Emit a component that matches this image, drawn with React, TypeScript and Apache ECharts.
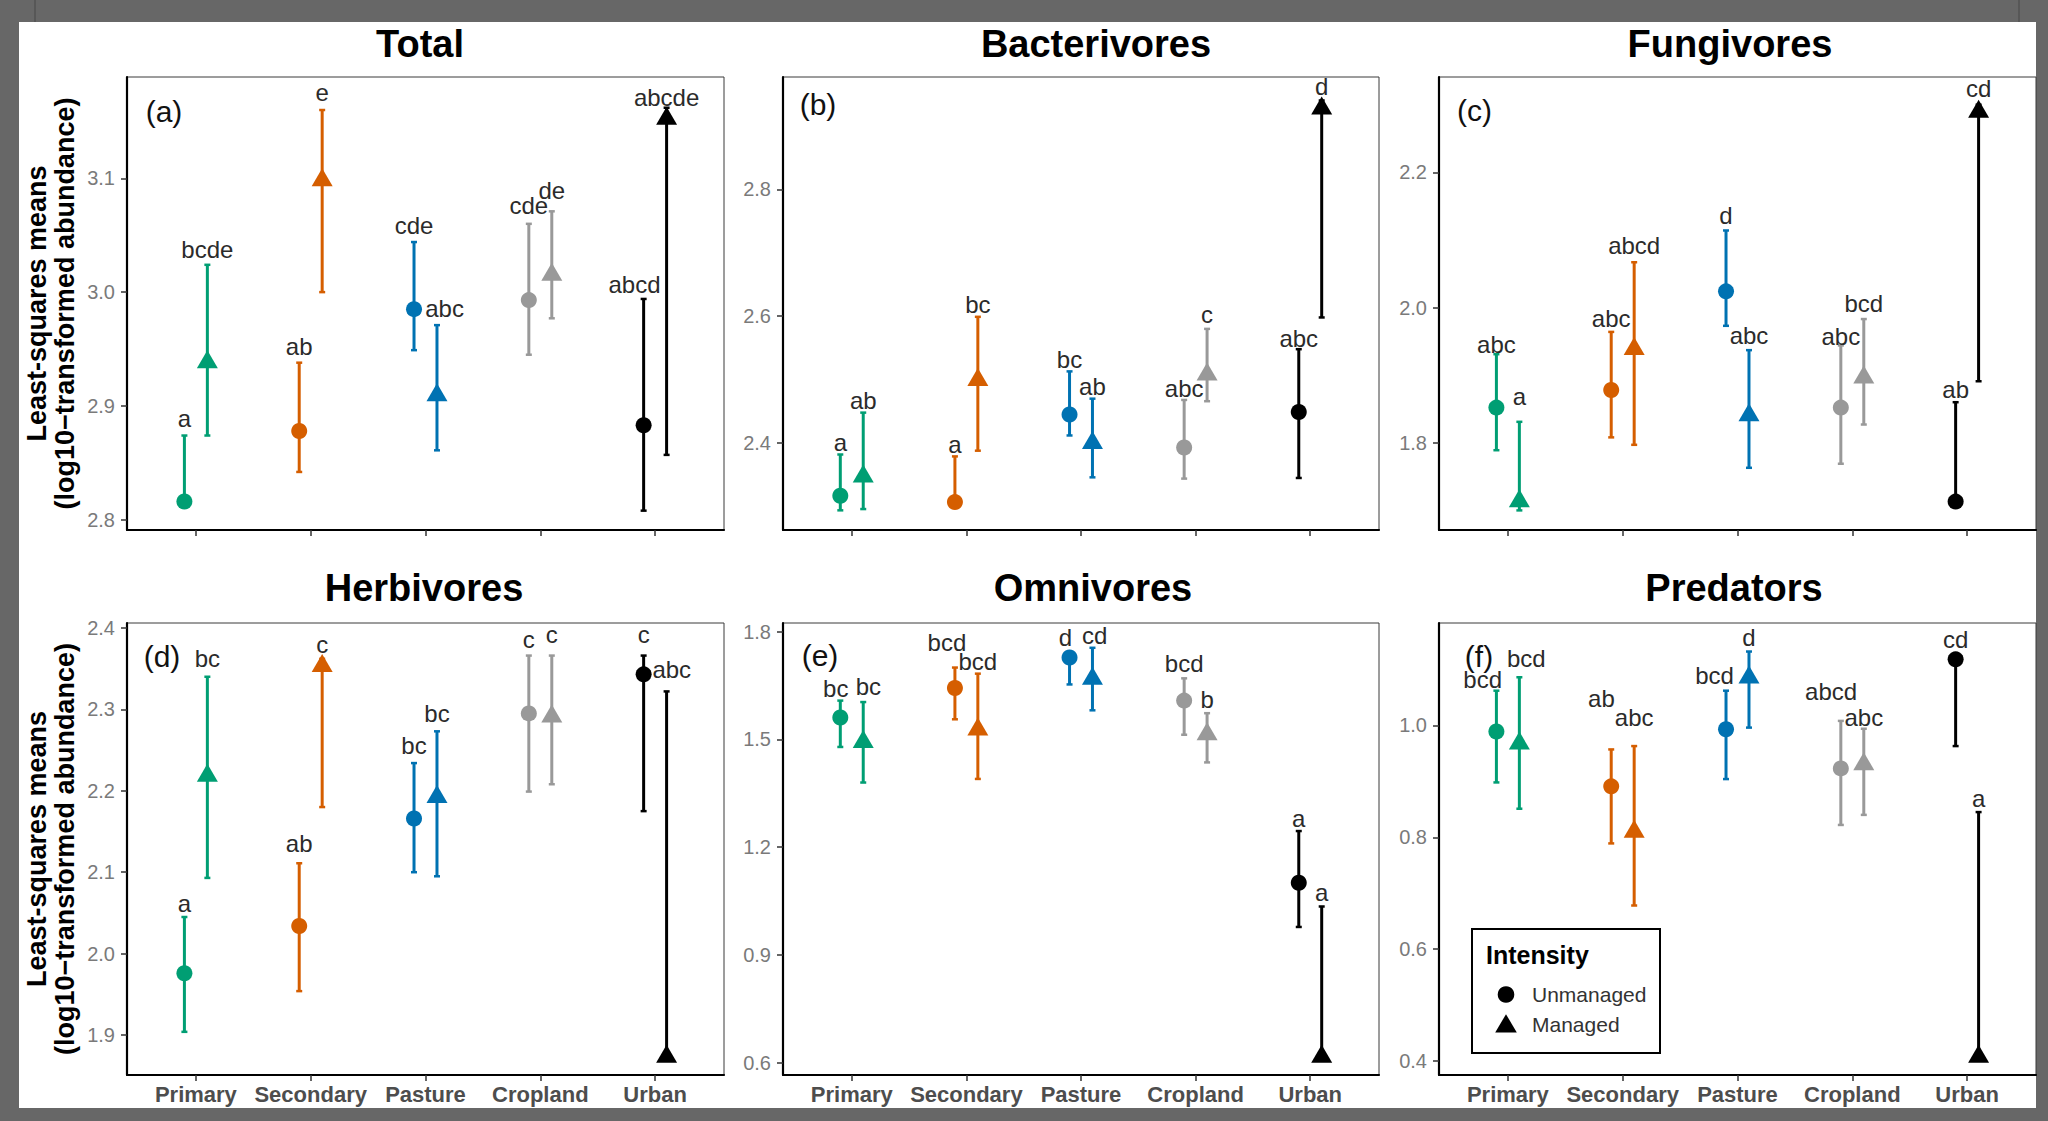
import React, { useEffect, useRef } from 'react';
import * as echarts from 'echarts';

// ---------- data ----------
const landUses = ['Primary', 'Secondary', 'Pasture', 'Cropland', 'Urban'];
const landUseColors = ['#009E73', '#D55E00', '#0072B2', '#999999', '#000000'];
const intensities = ['Unmanaged', 'Managed'];

// each row: [least-squares mean, lower CI, upper CI], one row per land use
const totalUnmanaged = [
  [2.816, 2.811, 2.874],
  [2.878, 2.842, 2.938],
  [2.985, 2.949, 3.044],
  [2.993, 2.945, 3.06],
  [2.883, 2.808, 2.994],
];
const totalManaged = [
  [2.941, 2.874, 3.024],
  [3.101, 3.0, 3.16],
  [2.912, 2.861, 2.971],
  [3.018, 2.977, 3.071],
  [3.155, 2.857, 3.162],
];
const totalLettersUnmanaged = ['a', 'ab', 'cde', 'cde', 'abcd'];
const totalLettersManaged = ['bcde', 'e', 'abc', 'de', 'abcde'];
const totalLetterYUnmanaged = [2.882, 2.945, 3.051, 3.069, 2.999];
const totalLetterYManaged = [3.03, 3.168, 2.978, 3.082, 3.164];
const totalTicks = [2.8, 2.9, 3.0, 3.1];

const bacterivoresUnmanaged = [
  [2.317, 2.294, 2.382],
  [2.307, 2.302, 2.379],
  [2.445, 2.412, 2.513],
  [2.393, 2.344, 2.468],
  [2.449, 2.345, 2.548],
];
const bacterivoresManaged = [
  [2.352, 2.296, 2.448],
  [2.504, 2.388, 2.599],
  [2.405, 2.346, 2.47],
  [2.513, 2.466, 2.58],
  [2.932, 2.598, 2.94],
];
const bacterivoresLettersUnmanaged = ['a', 'a', 'bc', 'abc', 'abc'];
const bacterivoresLettersManaged = ['ab', 'bc', 'ab', 'c', 'd'];
const bacterivoresLetterYUnmanaged = [2.388, 2.384, 2.518, 2.473, 2.552];
const bacterivoresLetterYManaged = [2.454, 2.605, 2.476, 2.589, 2.949];
const bacterivoresTicks = [2.4, 2.6, 2.8];

const fungivoresUnmanaged = [
  [1.852, 1.789, 1.931],
  [1.878, 1.808, 1.964],
  [2.024, 1.973, 2.114],
  [1.852, 1.769, 1.944],
  [1.713, 1.706, 1.86],
];
const fungivoresManaged = [
  [1.718, 1.7, 1.831],
  [1.943, 1.797, 2.067],
  [1.845, 1.763, 1.937],
  [1.901, 1.827, 1.983],
  [2.294, 1.891, 2.3],
];
const fungivoresLettersUnmanaged = ['abc', 'abc', 'd', 'abc', 'ab'];
const fungivoresLettersManaged = ['a', 'abcd', 'abc', 'bcd', 'cd'];
const fungivoresLetterYUnmanaged = [1.933, 1.972, 2.124, 1.945, 1.867];
const fungivoresLetterYManaged = [1.856, 2.079, 1.947, 1.993, 2.312];
const fungivoresTicks = [1.8, 2.0, 2.2];

const herbivoresUnmanaged = [
  [1.976, 1.904, 2.045],
  [2.034, 1.954, 2.111],
  [2.166, 2.1, 2.234],
  [2.295, 2.199, 2.366],
  [2.343, 2.175, 2.366],
];
const herbivoresManaged = [
  [2.222, 2.093, 2.34],
  [2.357, 2.18, 2.362],
  [2.196, 2.095, 2.273],
  [2.295, 2.208, 2.366],
  [1.877, 1.872, 2.322],
];
const herbivoresLettersUnmanaged = ['a', 'ab', 'bc', 'c', 'c'];
const herbivoresLettersManaged = ['bc', 'c', 'bc', 'c', 'abc'];
const herbivoresLetterYUnmanaged = [2.052, 2.125, 2.246, 2.376, 2.382];
const herbivoresLetterYManaged = [2.352, 2.37, 2.285, 2.382, 2.339];
const herbivoresTicks = [1.9, 2.0, 2.1, 2.2, 2.3, 2.4];

const omnivoresUnmanaged = [
  [1.561, 1.479, 1.608],
  [1.643, 1.556, 1.7],
  [1.728, 1.653, 1.74],
  [1.608, 1.513, 1.67],
  [1.101, 0.978, 1.245],
];
const omnivoresManaged = [
  [1.501, 1.38, 1.604],
  [1.536, 1.39, 1.683],
  [1.677, 1.581, 1.755],
  [1.523, 1.436, 1.573],
  [0.625, 0.612, 1.035],
];
const omnivoresLettersUnmanaged = ['bc', 'bcd', 'd', 'bcd', 'a'];
const omnivoresLettersManaged = ['bc', 'bcd', 'cd', 'b', 'a'];
const omnivoresLetterYUnmanaged = [1.619, 1.748, 1.76, 1.688, 1.257];
const omnivoresLetterYManaged = [1.623, 1.695, 1.765, 1.589, 1.05];
const omnivoresTicks = [0.6, 0.9, 1.2, 1.5, 1.8];

const predatorsUnmanaged = [
  [0.989, 0.898, 1.062],
  [0.891, 0.789, 0.957],
  [0.993, 0.904, 1.062],
  [0.923, 0.822, 1.008],
  [1.118, 0.963, 1.125],
];
const predatorsManaged = [
  [0.973, 0.851, 1.086],
  [0.815, 0.678, 0.963],
  [1.091, 0.996, 1.132],
  [0.936, 0.84, 0.994],
  [0.413, 0.405, 0.845],
];
const predatorsLettersUnmanaged = ['bcd', 'ab', 'bcd', 'abcd', 'cd'];
const predatorsLettersManaged = ['bcd', 'abc', 'd', 'abc', 'a'];
const predatorsLetterYUnmanaged = [1.067, 1.033, 1.075, 1.045, 1.139];
const predatorsLetterYManaged = [1.104, 1.0, 1.142, 1.0, 0.854];
const predatorsTicks = [0.4, 0.6, 0.8, 1.0];

// ---------- layout / styling ----------
const FONT = "'Liberation Sans', Arial, Helvetica, sans-serif";
const DODGE = 0.1;

const panels = [
  {
    title: 'Total', tag: '(a)', unmanaged: totalUnmanaged, managed: totalManaged,
    lettersU: totalLettersUnmanaged, lettersM: totalLettersManaged,
    letterYU: totalLetterYUnmanaged, letterYM: totalLetterYManaged, ticks: totalTicks,
    yMin: 2.791, yMax: 3.189, left: 127, top: 77, width: 597, height: 453, showX: false,
    titleX: 420, titleY: 44, tagX: 164, tagY: 111.5,
    nudgeU: [0, 0, 0, 0, -0.08], nudgeM: [0, 0, 0.066, 0, 0],
  },
  {
    title: 'Bacterivores', tag: '(b)', unmanaged: bacterivoresUnmanaged, managed: bacterivoresManaged,
    lettersU: bacterivoresLettersUnmanaged, lettersM: bacterivoresLettersManaged,
    letterYU: bacterivoresLetterYUnmanaged, letterYM: bacterivoresLetterYManaged, ticks: bacterivoresTicks,
    yMin: 2.263, yMax: 2.977, left: 783, top: 77, width: 596, height: 453, showX: false,
    titleX: 1096, titleY: 44, tagX: 818, tagY: 104.5,
    nudgeU: [0, 0, 0, 0, 0], nudgeM: [0, 0, 0, 0, 0],
  },
  {
    title: 'Fungivores', tag: '(c)', unmanaged: fungivoresUnmanaged, managed: fungivoresManaged,
    lettersU: fungivoresLettersUnmanaged, lettersM: fungivoresLettersManaged,
    letterYU: fungivoresLetterYUnmanaged, letterYM: fungivoresLetterYManaged, ticks: fungivoresTicks,
    yMin: 1.671, yMax: 2.341, left: 1439, top: 77, width: 597, height: 453, showX: false,
    titleX: 1730, titleY: 44, tagX: 1474.5, tagY: 110,
    nudgeU: [0, 0, 0, 0, 0], nudgeM: [0, 0, 0, 0, 0],
  },
  {
    title: 'Herbivores', tag: '(d)', unmanaged: herbivoresUnmanaged, managed: herbivoresManaged,
    lettersU: herbivoresLettersUnmanaged, lettersM: herbivoresLettersManaged,
    letterYU: herbivoresLetterYUnmanaged, letterYM: herbivoresLetterYManaged, ticks: herbivoresTicks,
    yMin: 1.851, yMax: 2.406, left: 127, top: 623, width: 597, height: 452, showX: true,
    titleX: 424, titleY: 588, tagX: 162, tagY: 656.5,
    nudgeU: [0, 0, 0, 0, 0], nudgeM: [0, 0, 0, 0, 0.045],
  },
  {
    title: 'Omnivores', tag: '(e)', unmanaged: omnivoresUnmanaged, managed: omnivoresManaged,
    lettersU: omnivoresLettersUnmanaged, lettersM: omnivoresLettersManaged,
    letterYU: omnivoresLetterYUnmanaged, letterYM: omnivoresLetterYManaged, ticks: omnivoresTicks,
    yMin: 0.566, yMax: 1.824, left: 783, top: 623, width: 596, height: 452, showX: true,
    titleX: 1093, titleY: 588, tagX: 820, tagY: 655,
    nudgeU: [-0.04, -0.07, -0.035, 0, 0], nudgeM: [0.045, 0, 0.02, 0, 0],
  },
  {
    title: 'Predators', tag: '(f)', unmanaged: predatorsUnmanaged, managed: predatorsManaged,
    lettersU: predatorsLettersUnmanaged, lettersM: predatorsLettersManaged,
    letterYU: predatorsLetterYUnmanaged, letterYM: predatorsLetterYManaged, ticks: predatorsTicks,
    yMin: 0.375, yMax: 1.183, left: 1439, top: 623, width: 597, height: 452, showX: true,
    titleX: 1734, titleY: 588, tagX: 1479, tagY: 656.5,
    nudgeU: [-0.12, -0.085, -0.1, -0.085, 0], nudgeM: [0.06, 0, 0, 0, 0],
  },
];

function buildOption() {
  const grid: any[] = [];
  const xAxis: any[] = [];
  const yAxis: any[] = [];
  const series: any[] = [];
  const graphic: any[] = [];
  const catValues = landUses.map((_, k) => k);

  panels.forEach((p, i) => {
    grid.push({
      left: p.left, top: p.top, width: p.width, height: p.height,
      show: true, borderColor: '#3a3a3a', borderWidth: 1, backgroundColor: 'transparent',
    });
    xAxis.push({
      type: 'value', gridIndex: i, min: -0.6, max: 4.6,
      splitLine: { show: false },
      axisLine: { show: true, onZero: false, lineStyle: { color: '#000', width: 2.2 } },
      axisTick: { show: true, length: 6, customValues: catValues, lineStyle: { color: '#333', width: 1.5 } },
      axisLabel: {
        show: p.showX, customValues: catValues,
        formatter: (v: number) => landUses[Math.round(v)] ?? '',
        margin: 8, fontSize: 22, fontWeight: 'bold', color: '#4d4d4d', fontFamily: FONT,
      },
    });
    yAxis.push({
      type: 'value', gridIndex: i, min: p.yMin, max: p.yMax,
      splitLine: { show: false },
      axisLine: { show: true, onZero: false, lineStyle: { color: '#000', width: 2.2 } },
      axisTick: { show: true, length: 6, customValues: p.ticks, lineStyle: { color: '#333', width: 1.5 } },
      axisLabel: {
        customValues: p.ticks,
        formatter: (v: number) => v.toFixed(1),
        margin: 12, fontSize: 20, color: '#7a7a7a', fontFamily: FONT,
      },
    });

    // error bars
    const barData: any[] = [];
    p.unmanaged.forEach((r, k) => barData.push([k - DODGE, r[1], r[2], k]));
    p.managed.forEach((r, k) => barData.push([k + DODGE, r[1], r[2], k]));
    series.push({
      type: 'custom', xAxisIndex: i, yAxisIndex: i, z: 2, silent: true,
      data: barData,
      renderItem: (_params: any, api: any) => {
        const x = api.value(0);
        const lo = api.coord([x, api.value(1)]);
        const hi = api.coord([x, api.value(2)]);
        const color = landUseColors[api.value(3)];
        const cap = 3;
        return {
          type: 'group',
          children: [
            { type: 'line', shape: { x1: lo[0], y1: lo[1], x2: hi[0], y2: hi[1] }, style: { stroke: color, lineWidth: 3 } },
            { type: 'line', shape: { x1: hi[0] - cap, y1: hi[1], x2: hi[0] + cap, y2: hi[1] }, style: { stroke: color, lineWidth: 2.5 } },
            { type: 'line', shape: { x1: lo[0] - cap, y1: lo[1], x2: lo[0] + cap, y2: lo[1] }, style: { stroke: color, lineWidth: 2.5 } },
          ],
        };
      },
    });

    // points
    series.push({
      name: intensities[0], type: 'scatter', xAxisIndex: i, yAxisIndex: i, z: 3, silent: true,
      symbol: 'circle', symbolSize: 16,
      itemStyle: { color: '#000', opacity: 1 },
      data: p.unmanaged.map((r, k) => ({ value: [k - DODGE, r[0]], itemStyle: { color: landUseColors[k] } })),
    });
    series.push({
      name: intensities[1], type: 'scatter', xAxisIndex: i, yAxisIndex: i, z: 3, silent: true,
      symbol: 'triangle', symbolSize: [21, 18],
      itemStyle: { color: '#000', opacity: 1 },
      data: p.managed.map((r, k) => ({ value: [k + DODGE, r[0]], itemStyle: { color: landUseColors[k] } })),
    });

    // significance letters
    const letters = [...p.lettersU, ...p.lettersM];
    const letterData = [
      ...p.letterYU.map((y, k) => [k - DODGE + p.nudgeU[k], y]),
      ...p.letterYM.map((y, k) => [k + DODGE + p.nudgeM[k], y]),
    ];
    series.push({
      type: 'custom', xAxisIndex: i, yAxisIndex: i, z: 4, silent: true,
      data: letterData,
      renderItem: (params: any, api: any) => {
        const pt = api.coord([api.value(0), api.value(1)]);
        return {
          type: 'text', x: pt[0], y: pt[1] - 8.3,
          style: {
            text: letters[params.dataIndex], align: 'center', verticalAlign: 'middle',
            fontSize: 24, fontFamily: FONT, fill: '#2b2b2b',
          },
        };
      },
    });

    // title and tag
    graphic.push({
      type: 'text', x: p.titleX, y: p.titleY, silent: true,
      style: { text: p.title, align: 'center', verticalAlign: 'middle', fontSize: 38, fontWeight: 'bold', fontFamily: FONT, fill: '#000' },
    });
    graphic.push({
      type: 'text', x: p.tagX, y: p.tagY, silent: true,
      style: { text: p.tag, align: 'center', verticalAlign: 'middle', fontSize: 30, fontFamily: FONT, fill: '#111' },
    });
  });

  // y-axis titles (left column)
  [303.5, 849].forEach((cy) => {
    graphic.push({
      type: 'text', x: 36.5, y: cy, rotation: Math.PI / 2, silent: true,
      style: { text: 'Least-squares means', align: 'center', verticalAlign: 'middle', fontSize: 27, fontWeight: 'bold', fontFamily: FONT, fill: '#000' },
    });
    graphic.push({
      type: 'text', x: 64.5, y: cy, rotation: Math.PI / 2, silent: true,
      style: { text: '(log10\u2212transformed abundance)', align: 'center', verticalAlign: 'middle', fontSize: 27, fontWeight: 'bold', fontFamily: FONT, fill: '#000' },
    });
  });

  // legend (Intensity)
  graphic.push(
    { type: 'rect', silent: true, z: 10, shape: { x: 1472, y: 929, width: 188, height: 124 }, style: { fill: '#fff', stroke: '#000', lineWidth: 2 } },
    { type: 'text', silent: true, z: 11, x: 1486, y: 955.3, style: { text: 'Intensity', align: 'left', verticalAlign: 'middle', fontSize: 25, fontWeight: 'bold', fontFamily: FONT, fill: '#000' } },
    { type: 'circle', silent: true, z: 11, shape: { cx: 1506, cy: 994.5, r: 8.3 }, style: { fill: '#000' } },
    { type: 'text', silent: true, z: 11, x: 1532, y: 994.4, style: { text: intensities[0], align: 'left', verticalAlign: 'middle', fontSize: 21, fontFamily: FONT, fill: '#333' } },
    { type: 'polygon', silent: true, z: 11, shape: { points: [[1506, 1014.2], [1495.2, 1032.5], [1516.8, 1032.5]] }, style: { fill: '#000' } },
    { type: 'text', silent: true, z: 11, x: 1532, y: 1024.4, style: { text: intensities[1], align: 'left', verticalAlign: 'middle', fontSize: 21, fontFamily: FONT, fill: '#333' } },
  );

  return {
    animation: false,
    backgroundColor: 'transparent',
    textStyle: { fontFamily: FONT },
    grid, xAxis, yAxis, series, graphic,
  };
}

export default function App() {
  const ref = useRef<HTMLDivElement>(null);
  useEffect(() => {
    const chart = echarts.init(ref.current as HTMLDivElement, null, { renderer: 'svg' });
    chart.setOption(buildOption() as any);
    return () => chart.dispose();
  }, []);
  return (
    <div style={{ position: 'absolute', left: 0, top: 0, width: 2048, height: 1121, background: '#676767', overflow: 'hidden' }}>
      <div style={{ position: 'absolute', left: 34, top: 0, width: 2, height: 22, background: '#575757' }} />
      <div style={{ position: 'absolute', left: 2018, top: 0, width: 2, height: 22, background: '#575757' }} />
      <div style={{ position: 'absolute', left: 19, top: 22, width: 2017, height: 1086, background: '#ffffff' }} />
      <div ref={ref} style={{ position: 'absolute', left: 0, top: 0, width: 2048, height: 1121 }} />
    </div>
  );
}
